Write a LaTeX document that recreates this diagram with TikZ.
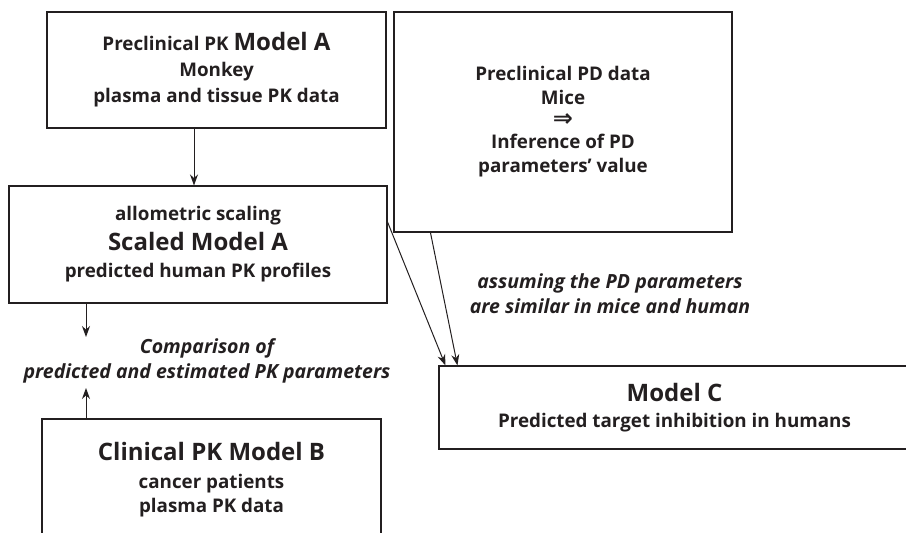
\documentclass[tikz,border=0pt]{standalone}
\usepackage{fontspec}
\setmainfont{Open Sans}
\newfontfamily\symfont{DejaVu Sans}
\usetikzlibrary{arrows.meta,calc}
\definecolor{ink}{HTML}{231F20}
\begin{document}
\begin{tikzpicture}[x=1pt,y=-1pt,
  box/.style={draw=ink,line width=1.1pt,inner sep=0pt,align=center,text=ink,font=\bfseries\fontsize{18.8}{25}\selectfont},
  lbl/.style={align=center,text=ink,inner sep=0pt,font=\bfseries\itshape\fontsize{19.5}{25}\selectfont},
  arr/.style={draw=ink,line width=1pt,-{Stealth[length=11pt,width=8pt]}}]
\useasboundingbox (0,0) rectangle (906,533);
\clip (0,0) rectangle (906,533);
\newcommand{\bigtxt}[1]{{\fontsize{24}{25}\selectfont #1}}
\node[box,minimum width=339pt,minimum height=116pt] (A) at (216.5,70)
  {Preclinical PK \bigtxt{Model A}\\[1pt]Monkey\\[1pt]plasma and tissue PK data};
\node[box,minimum width=378pt,minimum height=117pt] (S) at (198,244.5)
  {allometric scaling\\[5pt]\bigtxt{Scaled Model A}\\[2pt]predicted human PK profiles};
\node[box,minimum width=338pt,minimum height=220pt] (P) at (563,122)
  {Preclinical PD data\\[-1pt]Mice\\[-3pt]{\symfont\fontsize{24}{20}\selectfont ⇒}\\[-3pt]Inference of PD\\[-1pt]parameters’ value};
\node[box,minimum width=339pt,minimum height=122pt] (B) at (211.5,480)
  {\bigtxt{Clinical PK Model B}\\[3pt]cancer patients\\[-1pt]plasma PK data};
\node[box,minimum width=471pt,minimum height=83pt] (C) at (674.5,407.5)
  {\bigtxt{Model C}\\[1pt]Predicted target inhibition in humans};
\node[lbl] (cmp) at (207,361) {Comparison of\\predicted and estimated PK parameters};
\node[lbl] (asm) at (610,294) {assuming the PD parameters\\are similar in mice and human};
\coordinate (d1) at (86,337);
\coordinate (u1) at (86,388);
\draw[arr] ([xshift=-22.5pt]A.south) -- ([xshift=-22.5pt]A.south |- S.north);
\draw[arr] (S.south -| d1) -- (d1);
\draw[arr] (B.north -| u1) -- (u1);
\draw[arr] ([yshift=22.5pt]S.east) -- ([xshift=7pt]C.north west);
\draw[arr] ([xshift=37pt]P.south west) -- ([xshift=19pt]C.north west);
\end{tikzpicture}
\end{document}
